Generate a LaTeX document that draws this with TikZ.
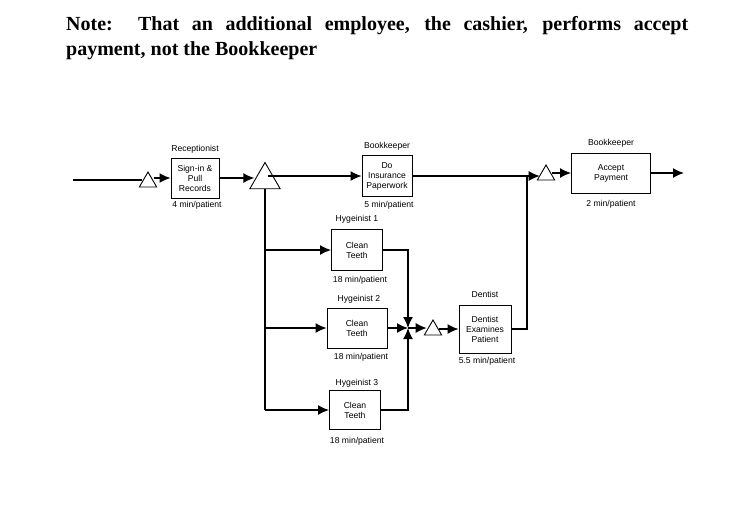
\documentclass[tikz,border=0pt]{standalone}
\usepackage{fontspec}
\setmainfont{Liberation Serif}
\newfontfamily\arialf{Liberation Sans}
\usetikzlibrary{shapes.geometric,arrows.meta}
\begin{document}
\begin{tikzpicture}[x=1pt,y=-1pt,
  box/.style={draw,line width=0.9pt,fill=white,align=center,font=\arialf\fontsize{8.6}{10}\selectfont,inner sep=1pt},
  lab/.style={font=\arialf\fontsize{8.6}{10}\selectfont},
  tri/.style={draw,line width=0.9pt,fill=white,regular polygon,regular polygon sides=3,inner sep=0pt},
  ln/.style={line width=1.4pt},
  ar/.style={ln,-{Latex[length=11pt,width=10pt]}}]
\useasboundingbox (0,0) rectangle (751,507);
\node[anchor=north west,inner sep=0pt,align=left,font=\fontsize{20}{25}\selectfont\bfseries] (title) at (66,16)
 {\makebox[622pt][s]{Note:\ \ That an additional employee, the cashier, performs accept}\\payment, not the Bookkeeper};
% nodes
\coordinate (in) at (73,180);
\node[tri,minimum size=20pt] (t1) at (148,182) {};
\node[box,minimum width=48pt,minimum height=40pt] (rec) at (195,178) {Sign-in \&\\Pull\\Records};
\node[lab] (recl) at (195,149) {Receptionist};
\node[lab] (rect) at (197,205) {4 min/patient};
\node[tri,minimum size=35pt] (t2) at (265,180) {};
\node[box,minimum width=50pt,minimum height=41pt] (ins) at (387,176) {Do\\Insurance\\Paperwork};
\node[lab] (insl) at (387,146) {Bookkeeper};
\node[lab] (inst) at (389,205) {5 min/patient};
\node[tri,minimum size=20pt] (t3) at (546,175) {};
\node[box,minimum width=79pt,minimum height=40pt] (acc) at (611,173) {Accept\\Payment};
\node[lab] (accl) at (611,143) {Bookkeeper};
\node[lab] (acct) at (611,204) {2 min/patient};
\coordinate (out) at (684,173);
\node[box,minimum width=51pt,minimum height=41pt] (h1) at (357,250) {Clean\\Teeth};
\node[lab] (h1l) at (357,219) {Hygeinist 1};
\node[lab] (h1t) at (360,280) {18 min/patient};
\node[box,minimum width=60pt,minimum height=40pt] (h2) at (357,328) {Clean\\Teeth};
\node[lab] (h2l) at (359,299) {Hygeinist 2};
\node[lab] (h2t) at (361,357) {18 min/patient};
\node[box,minimum width=51pt,minimum height=39pt] (h3) at (355,410) {Clean\\Teeth};
\node[lab] (h3l) at (357,383) {Hygeinist 3};
\node[lab] (h3t) at (357,441) {18 min/patient};
\coordinate (j) at (408,328);
\node[tri,minimum size=20pt] (t4) at (433,330) {};
\node[box,minimum width=52pt,minimum height=48pt] (den) at (485,329) {Dentist\\Examines\\Patient};
\node[lab] (denl) at (485,294) {Dentist};
\node[lab] (dent) at (487,361) {5.5 min/patient};
% connectors
\draw[ln] (in) -- (t1.west |- in);
\draw[ar] (t1.east |- rec.west) -- (rec.west);
\draw[ar] (rec.east) -- (t2.west |- rec.east);
\draw[ar] (t2.east |- ins.west) ++(-8,0) -- (ins.west);
\draw[ln] (ins.east) -- (527,176);
\draw[ar] (ins.east) -- (t3.west |- ins.east);
\draw[ar] (t3.east |- acc.west) -- (acc.west);
\draw[ar] (acc.east) -- (out);
\draw[ln] (t2.south) -- (265,410);
\draw[ar] (265,250) -- (h1.west);
\draw[ar] (265,328) -- (h2.west);
\draw[ar] (265,410) -- (h3.west);
\draw[ar] (h1.east) -| (j);
\draw[ar] (h3.east) -| (j);
\draw[ar] (h2.east) -- (j);
\draw[ar] (j) -- (t4.west |- j);
\draw[ar] (t4.east |- den.west) -- (den.west);
\draw[ln] (den.east) -| (527,176);
\end{tikzpicture}
\end{document}
